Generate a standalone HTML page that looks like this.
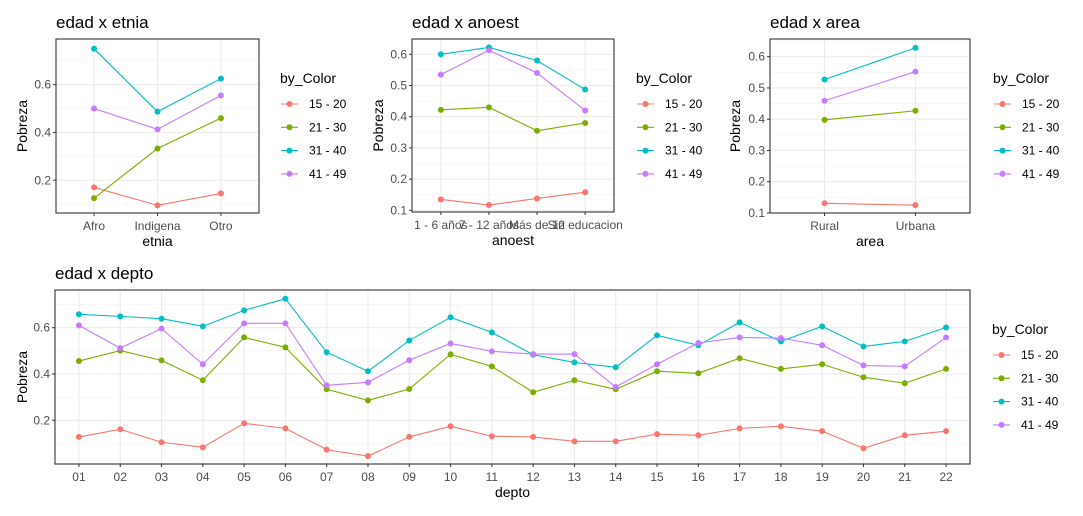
<!DOCTYPE html>
<html><head><meta charset="utf-8"><style>
body{margin:0;background:#fff;}
svg{display:block;font-family:"Liberation Sans",Arial,sans-serif;}
</style></head><body>
<svg id="chart" width="1083" height="516" viewBox="0 0 1083 516"></svg>
<script>
const seriesNames=["15 - 20","21 - 30","31 - 40","41 - 49"];
const colors=["#F8766D","#7CAE00","#00BFC4","#C77CFF"];

const etniaCats=["Afro","Indigena","Otro"];
const etnia1520=[0.17,0.095,0.145];
const etnia2130=[0.125,0.333,0.46];
const etnia3140=[0.75,0.487,0.625];
const etnia4149=[0.5,0.413,0.555];
const etniaTicks=[0.2,0.4,0.6];

const anoestCats=["1 - 6 años","7 - 12 años","Más de 12","Sin educacion"];
const anoest1520=[0.135,0.117,0.138,0.158];
const anoest2130=[0.422,0.43,0.355,0.38];
const anoest3140=[0.60,0.622,0.58,0.487];
const anoest4149=[0.535,0.613,0.54,0.42];
const anoestTicks=[0.1,0.2,0.3,0.4,0.5,0.6];

const areaCats=["Rural","Urbana"];
const area1520=[0.131,0.125];
const area2130=[0.398,0.427];
const area3140=[0.527,0.628];
const area4149=[0.459,0.552];
const areaTicks=[0.1,0.2,0.3,0.4,0.5,0.6];

const deptoCats=["01","02","03","04","05","06","07","08","09","10","11","12","13","14","15","16","17","18","19","20","21","22"];
const depto1520=[0.128,0.161,0.105,0.083,0.187,0.165,0.073,0.045,0.128,0.174,0.131,0.128,0.109,0.109,0.140,0.135,0.165,0.174,0.153,0.079,0.135,0.153];
const depto2130=[0.456,0.501,0.459,0.373,0.558,0.515,0.334,0.286,0.335,0.485,0.433,0.321,0.373,0.334,0.412,0.403,0.468,0.422,0.442,0.386,0.360,0.422];
const depto3140=[0.658,0.649,0.639,0.606,0.675,0.725,0.494,0.412,0.545,0.645,0.580,0.483,0.450,0.429,0.567,0.524,0.623,0.541,0.606,0.519,0.541,0.601];
const depto4149=[0.610,0.512,0.596,0.442,0.619,0.619,0.351,0.364,0.460,0.532,0.498,0.486,0.486,0.344,0.442,0.534,0.558,0.555,0.524,0.437,0.433,0.558];
const deptoTicks=[0.2,0.4,0.6];

const NS="http://www.w3.org/2000/svg";
const svg=document.getElementById('chart');
function mk(tag,attrs,parent,text){const e=document.createElementNS(NS,tag);for(const k in attrs)e.setAttribute(k,attrs[k]);if(text!==undefined)e.textContent=text;(parent||svg).appendChild(e);return e;}

function panel(o){
  const g=mk('g',{});
  
  
  const yS=v=>o.y1-(v-o.vmin)/(o.vmax-o.vmin)*(o.y1-o.y0);
  const xS=i=>o.x0+(o.xpad+i)*(o.x1-o.x0)/(o.cats.length-1+2*o.xpad);
  const step=o.ticks[1]-o.ticks[0];
  for(let v=o.ticks[0]-step/2;v<=o.vmax;v+=step){if(v<o.vmin)continue;
    const l=mk('line',{x1:o.x0,x2:o.x1,y1:yS(v),y2:yS(v),stroke:'#f2f2f2','stroke-width':0.6},g);
    
    }
  o.ticks.forEach(v=>{
    const l=mk('line',{x1:o.x0,x2:o.x1,y1:yS(v),y2:yS(v),stroke:'#ebebeb','stroke-width':1.1},g);
    
    
    mk('line',{x1:o.x0-3,x2:o.x0,y1:yS(v),y2:yS(v),stroke:'#333','stroke-width':1},g);
    const t=mk('text',{x:o.x0-5,y:yS(v)+4,'text-anchor':'end','font-size':12,fill:'#4d4d4d'},g,v.toFixed(1));
    
    
  });
  o.cats.forEach((c,i)=>{
    const l=mk('line',{x1:xS(i),x2:xS(i),y1:o.y0,y2:o.y1,stroke:'#ebebeb','stroke-width':1.1},g);
    
    
    mk('line',{x1:xS(i),x2:xS(i),y1:o.y1,y2:o.y1+3,stroke:'#333','stroke-width':1},g);
    const t=mk('text',{x:xS(i),y:o.y1+17,'text-anchor':'middle','font-size':12,fill:'#4d4d4d'},g,c);
    
    
  });
  o.series.forEach((s,k)=>{
    const pts=s.map((v,i)=>xS(i)+','+yS(v)).join(' ');
    const pl=mk('polyline',{points:pts,fill:'none',stroke:colors[k],'stroke-width':1.1},g);
    
    
    s.forEach((v,i)=>{
      const c=mk('circle',{cx:xS(i),cy:yS(v),r:3,fill:colors[k]},g);
      
      
    });
  });
  mk('rect',{x:o.x0,y:o.y0,width:o.x1-o.x0,height:o.y1-o.y0,fill:'none',stroke:'#333','stroke-width':1.1},g);
  const tt=mk('text',{x:o.x0,y:o.y0-11,'font-size':17,fill:'#000'},g,o.title);
  
  
  const xt=mk('text',{x:(o.x0+o.x1)/2,y:o.y1+33,'text-anchor':'middle','font-size':14,fill:'#000'},g,o.xlab);
  
  
  const yx=o.ylx, yy=(o.y0+o.y1)/2;
  const yt=mk('text',{x:yx,y:yy,'text-anchor':'middle','font-size':14,fill:'#000',transform:`rotate(-90 ${yx} ${yy})`},g,'Pobreza');
  
  
  const lg=mk('g',{},g);
  
  
  mk('text',{x:o.lx,y:o.ly,'font-size':14,fill:'#000'},lg,'by_Color');
  seriesNames.forEach((n,k)=>{
    const y=o.ly+21+k*23.3;
    const e=mk('g',{},lg);
    
    
    mk('line',{x1:o.lx+1,x2:o.lx+18,y1:y,y2:y,stroke:colors[k],'stroke-width':1.1},e);
    mk('circle',{cx:o.lx+9.5,cy:y,r:3,fill:colors[k]},e);
    mk('text',{x:o.lx+29,y:y+4,'font-size':12,fill:'#000'},e,n);
  });
}

panel({name:'etnia',title:'edad x etnia',xlab:'etnia',cats:etniaCats,series:[etnia1520,etnia2130,etnia3140,etnia4149],ticks:etniaTicks,
  x0:56,x1:259,y0:39,y1:213,vmin:0.063,vmax:0.791,xpad:0.6,ylx:27,lx:280,ly:83});
panel({name:'anoest',title:'edad x anoest',xlab:'anoest',cats:anoestCats,series:[anoest1520,anoest2130,anoest3140,anoest4149],ticks:anoestTicks,
  x0:412,x1:614,y0:39,y1:212,vmin:0.0946,vmax:0.649,xpad:0.6,ylx:383,lx:636,ly:83});
panel({name:'area',title:'edad x area',xlab:'area',cats:areaCats,series:[area1520,area2130,area3140,area4149],ticks:areaTicks,
  x0:770,x1:970,y0:39,y1:213,vmin:0.1,vmax:0.6565,xpad:0.6,ylx:740,lx:993,ly:83});
panel({name:'depto',title:'edad x depto',xlab:'depto',cats:deptoCats,series:[depto1520,depto2130,depto3140,depto4149],ticks:deptoTicks,
  x0:55,x1:970,y0:290,y1:464,vmin:0.011,vmax:0.763,xpad:0.58,ylx:27,lx:992,ly:334});
</script>
</body></html>
